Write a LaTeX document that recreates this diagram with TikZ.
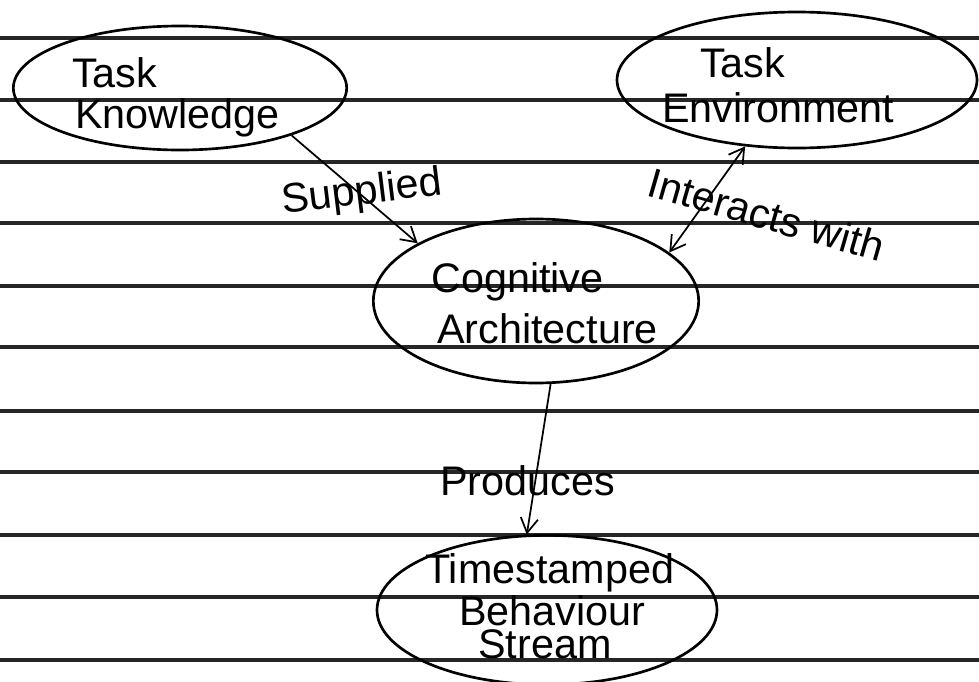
\documentclass[tikz,border=0pt]{standalone}
\usepackage{fontspec}
\setmainfont{Liberation Sans}
\usetikzlibrary{shapes.geometric,arrows.meta}
\tikzset{
  paperline/.style={line width=2.4pt, draw=black!85},
  bubble/.style={ellipse, draw=black, line width=2pt, inner sep=0pt},
  hand/.style={font=\fontsize{31}{34}\selectfont, inner sep=0pt, anchor=base west},
  link/.style={line width=1.3pt, draw=black, -{Straight Barb[length=11pt,width=13pt,line width=1.3pt]}},
  link2/.style={line width=1.3pt, draw=black, {Straight Barb[length=11pt,width=13pt,line width=1.3pt]}-{Straight Barb[length=11pt,width=13pt,line width=1.3pt]}}
}
\begin{document}
\begin{tikzpicture}[x=0.75pt,y=-0.75pt]
\clip (0,0) rectangle (979,682);
\fill[white] (0,0) rectangle (979,682);
% ruled paper lines
\foreach \yy in {38,100,162,223,286,347,411,472,535,597,660}
  \draw[paperline] (0,\yy) -- (979,\yy);
% bubbles
\node[bubble, minimum width=250pt, minimum height=93pt] (tk) at (180,88) {};
\node[bubble, minimum width=270pt, minimum height=102pt] (te) at (797,80) {};
\node[bubble, minimum width=244pt, minimum height=123pt] (ca) at (536,301) {};
\node[bubble, minimum width=255pt, minimum height=112pt] (ts) at (547,610) {};
% texts
\node[hand] (tk1) at (72,87) {Task};
\node[hand] (tk2) at (75,128) {Knowledge};
\node[hand] (te1) at (700,77) {Task};
\node[hand] (te2) at (662,122) {Environment};
\node[hand] (ca1) at (431,292) {Cognitive};
\node[hand] (ca2) at (437,343) {Architecture};
\node[hand] (ts1) at (425,583) {Timestamped};
\node[hand] (ts2) at (459,625) {Behaviour};
\node[hand] (ts3) at (478,658) {Stream};
% connectors
\draw[link] (tk.-23) -- (ca.154);
\draw[link2] (ca.20) -- (te.-128);
\draw[link] (ca.-80) -- (ts.105);
% connector labels
\node[hand, rotate=7] (lsup) at (283,214) {Supplied};
\node[hand, rotate=-16] (lint) at (645,195) {Interacts with};
\node[hand] (lpro) at (440,495) {Produces};
\end{tikzpicture}
\end{document}
